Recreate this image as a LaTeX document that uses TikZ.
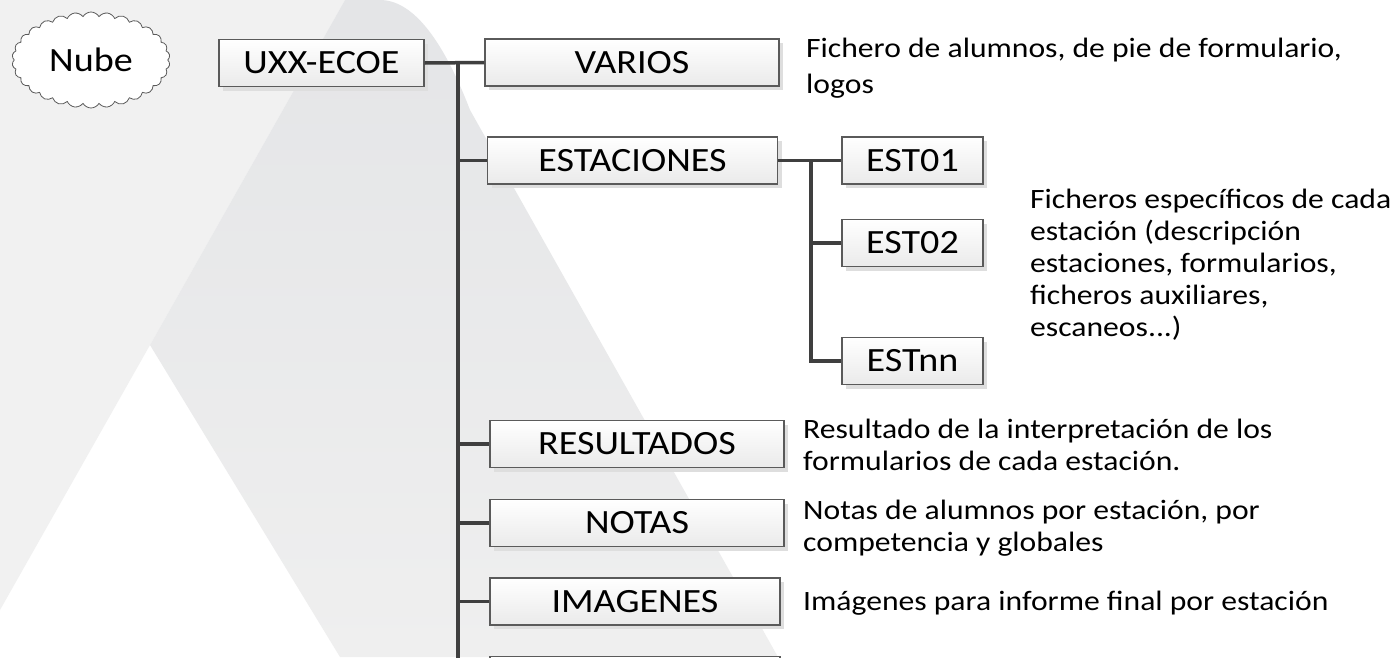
\documentclass[tikz,border=0pt]{standalone}
\usepackage{fontspec}
\setmainfont{Carlito}
\newfontfamily\boxfam{Carlito}[FakeStretch=1.12]
\newfontfamily\descfam{Carlito}[FakeStretch=1.13]
\usetikzlibrary{shapes.symbols,shadows}
\definecolor{leftgray}{HTML}{F1F1F1}
\definecolor{bandtop}{HTML}{E4E5E7}
\definecolor{bandbot}{HTML}{EFEFEF}
\definecolor{linecol}{HTML}{3F3F3F}
\definecolor{boxborder}{HTML}{5A5A5A}
\definecolor{boxbot}{HTML}{EAEAEA}
\definecolor{shadowcol}{HTML}{DEDEDE}
\newcommand{\boxfont}{\boxfam\fontsize{34}{40}\selectfont}
\newcommand{\descfont}{\descfam\fontsize{28}{32}\selectfont}
\newcommand{\descfontwide}{\descfam\fontsize{28}{36}\selectfont}
\tikzset{
  folder/.style={draw=boxborder, line width=1.1pt, top color=white, bottom color=boxbot,
    minimum height=47pt, inner sep=0pt, font=\boxfont, text=black,
    drop shadow={shadow xshift=4pt, shadow yshift=-4pt, fill=shadowcol, opacity=1}},
  conn/.style={draw=linecol, line width=3.5pt},
  desc/.style={anchor=north west, align=left, inner sep=0pt, font=\descfont, text=black},
}
\begin{document}
\begin{tikzpicture}[x=1pt,y=-1pt]
\useasboundingbox (0,0) rectangle (1393,657);
\clip (0,0) rectangle (1393,657);
% background watermark
\fill[white] (0,0) rectangle (1393,657);
\fill[leftgray] (0,0) -- (345,0) -- (150,345) -- (0,610) -- cycle;
\shade[top color=bandtop, bottom color=bandbot] (345,0) -- (380,0) .. controls (415,0) and (445,45) .. (470,110) -- (778,657) -- (340,657) -- (150,345) -- cycle;
% cloud
\node[cloud, cloud puffs=30, cloud puff arc=120, aspect=1.65, draw=boxborder, line width=0.8pt, fill=white, minimum width=158pt, minimum height=96pt, inner sep=0pt, font=\boxfont] (nube) at (91,60) {Nube};
% boxes
\node[folder, minimum width=205pt] (uxx) at (321.5,63) {UXX-ECOE};
\node[folder, minimum width=294pt] (varios) at (632,62.5) {VARIOS};
\node[folder, minimum width=290pt] (estaciones) at (632.5,160.5) {ESTACIONES};
\node[folder, minimum width=141pt] (est01) at (912.5,160.5) {EST01};
\node[folder, minimum width=141pt] (est02) at (912.5,243) {EST02};
\node[folder, minimum width=141pt] (estnn) at (912.5,361) {ESTnn};
\node[folder, minimum width=294pt] (resultados) at (637,444) {RESULTADOS};
\node[folder, minimum width=294pt] (notas) at (637,523) {NOTAS};
\node[folder, minimum width=290pt] (imagenes) at (635,601.5) {IMAGENES};
\node[folder, minimum width=290pt] (next) at (635,680) {};
% connectors
\coordinate (t0) at (458,63);
\coordinate (tend) at (458,660);
\coordinate (s0) at (811,160.5);
\draw[conn] (uxx.east) -- (varios.west);
\draw[conn] (t0) -- (tend);
\draw[conn] (estaciones.west) -- (estaciones.west -| t0);
\draw[conn] (resultados.west) -- (resultados.west -| t0);
\draw[conn] (notas.west) -- (notas.west -| t0);
\draw[conn] (imagenes.west) -- (imagenes.west -| t0);
\draw[conn] (estaciones.east) -- (est01.west);
\draw[conn] (s0) |- (estnn.west);
\draw[conn] (est02.west) -- (est02.west -| s0);
% descriptions
\node[desc, font=\descfontwide] (dvarios) at (806,38) {Fichero de alumnos, de pie de formulario,\\logos};
\node[desc] (dest) at (1030,189) {Ficheros específicos de cada\\estación (descripción\\estaciones, formularios,\\ficheros auxiliares,\\escaneos...)};
\node[desc] (dres) at (803,419) {Resultado de la interpretación de los\\formularios de cada estación.};
\node[desc] (dnotas) at (803,500) {Notas de alumnos por estación, por\\competencia y globales};
\node[desc] (dimg) at (803,591) {Imágenes para informe final por estación};
\end{tikzpicture}
\end{document}
